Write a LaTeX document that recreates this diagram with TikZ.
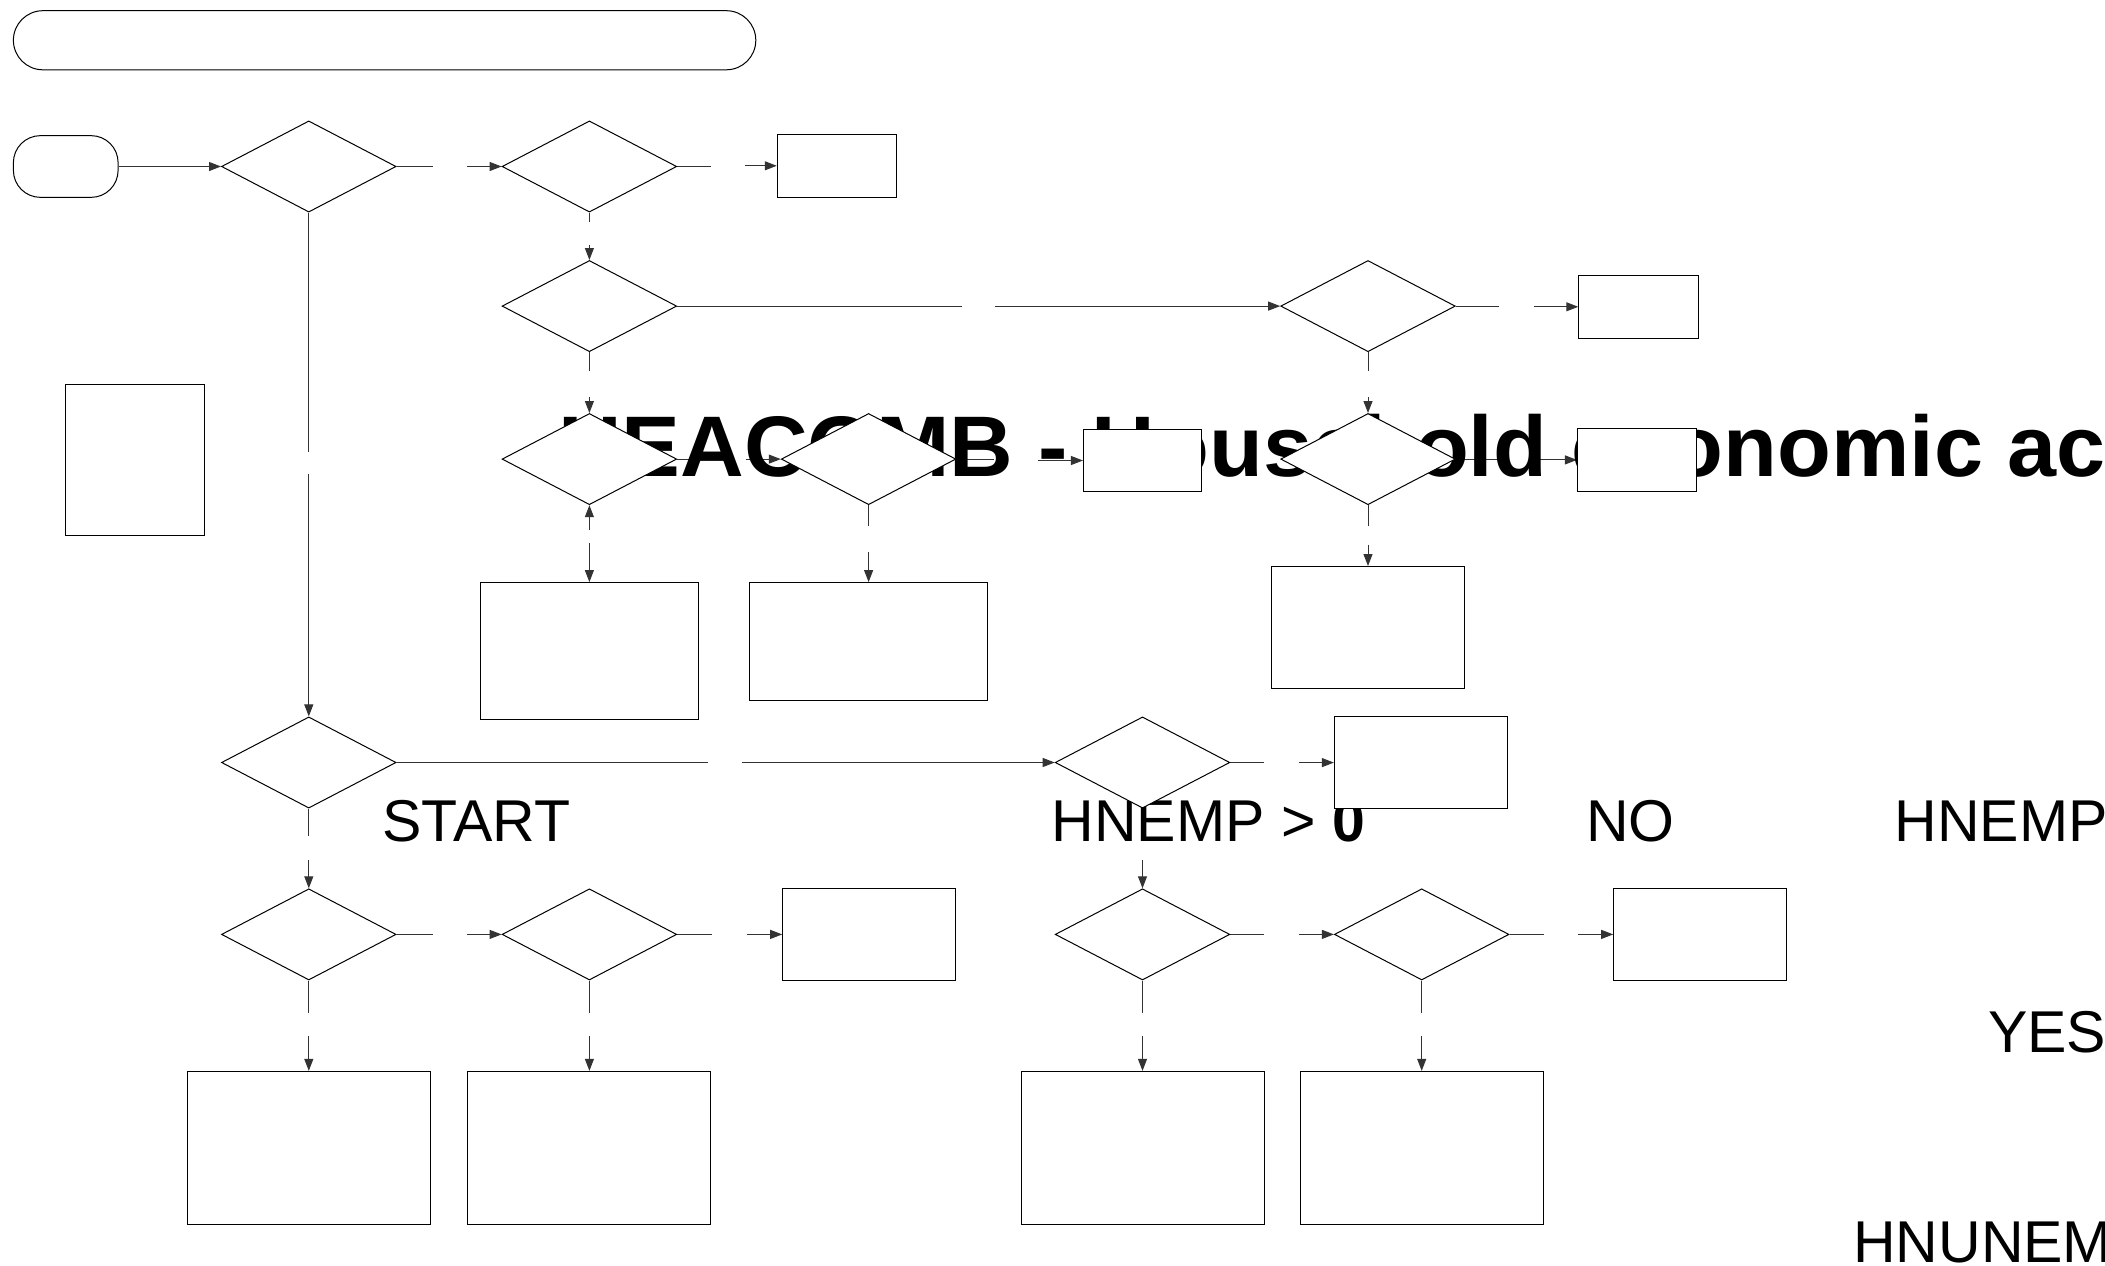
\documentclass[tikz,border=0pt]{standalone}
\usepackage{fontspec}
\setmainfont{Liberation Sans}
\newfontfamily\titlefont[FakeStretch=1.025]{Liberation Sans Bold}
\usetikzlibrary{shapes.geometric,arrows.meta}
\pgfdeclarelayer{lines}
\pgfdeclarelayer{texts}
\pgfsetlayers{lines,texts,main}
\tikzset{
  dec/.style={draw, diamond, fill=white, minimum width=174.6pt, minimum height=91.2pt, inner sep=0pt, line width=1pt},
  box/.style={draw, rectangle, fill=white, inner sep=0pt, line width=1pt},
  pill/.style={draw, rectangle, fill=white, inner sep=0pt, line width=1pt},
  conn/.style={line width=1pt, draw=black!80},
  arr/.style={conn, -{Triangle[length=12pt,width=9pt]}},
  lbl/.style={font=\fontsize{59}{61}\selectfont, inner sep=0pt, anchor=base west},
  ttl/.style={font=\fontsize{86}{90}\selectfont\titlefont, inner sep=0pt, anchor=base west}
}
\begin{document}
\begin{tikzpicture}[x=1pt,y=-1pt]
\useasboundingbox (0,0) rectangle (2105,1266);
% terminators
\node[pill, rounded corners=29.5pt, minimum width=742.4pt, minimum height=59.1pt] (T) at (384.6,40.25) {};
\node[pill, rounded corners=27pt, minimum width=104.7pt, minimum height=61.7pt] (S) at (65.75,166.5) {};
% decisions
\node[dec] (D1) at (308.8,166.5) {};
\node[dec] (D2) at (589.4,166.5) {};
\node[dec] (D3) at (589.4,306.1) {};
\node[dec] (D4) at (1368,306.1) {};
\node[dec] (D5) at (589.4,459.1) {};
\node[dec] (D6) at (868.6,459.1) {};
\node[dec] (D7) at (1368,459.1) {};
\node[dec] (D8) at (308.8,762.5) {};
\node[dec] (D9) at (1142.5,762.5) {};
\node[dec] (D10) at (308.8,934.4) {};
\node[dec] (D11) at (589.4,934.4) {};
\node[dec] (D12) at (1142.5,934.4) {};
\node[dec] (D13) at (1421.7,934.4) {};
% boxes
\node[box, minimum width=119.5pt, minimum height=63.1pt] (B1) at (837,165.8) {};
\node[box, minimum width=119.5pt, minimum height=63.1pt] (B2) at (1638.5,306.8) {};
\node[box, minimum width=138.3pt, minimum height=151.7pt] (B3) at (135,459.9) {};
\node[box, minimum width=118.1pt, minimum height=61.8pt] (B4) at (1142.5,460.5) {};
\node[box, minimum width=119.5pt, minimum height=63.1pt] (B5) at (1637.2,459.9) {};
\node[box, minimum width=218.8pt, minimum height=137pt] (B6) at (589.4,651.1) {};
\node[box, minimum width=237.6pt, minimum height=118.2pt] (B7) at (868.6,641.7) {};
\node[box, minimum width=193.4pt, minimum height=122.2pt] (B8) at (1368,627.6) {};
\node[box, minimum width=173.2pt, minimum height=91.3pt] (B9) at (1421,762.6) {};
\node[box, minimum width=173.2pt, minimum height=91.3pt] (B10) at (869.3,934.4) {};
\node[box, minimum width=173.2pt, minimum height=91.3pt] (B11) at (1700.3,934.4) {};
\node[box, minimum width=243pt, minimum height=153.1pt] (B12) at (308.8,1147.9) {};
\node[box, minimum width=243pt, minimum height=153.1pt] (B13) at (589.4,1147.9) {};
\node[box, minimum width=243pt, minimum height=153.1pt] (B14) at (1142.5,1147.9) {};
\node[box, minimum width=243pt, minimum height=153.1pt] (B15) at (1421.7,1147.9) {};
% texts
\begin{pgfonlayer}{texts}
\node[ttl] (title) at (558,476.6) {HEACOMB - Household economic activity};
\node[lbl] (start) at (382,841.7) {START};
\node[lbl] (cond) at (1051.5,841.7) {HNEMP > \textbf{0}};
\node[lbl] (no) at (1586,841.7) {NO};
\node[lbl] (hnemp) at (1894.5,841.7) {HNEMP};
\node[lbl] (yes) at (1988,1052.5) {YES};
\node[lbl] (hnunemp) at (1853,1262) {HNUNEMP};
\end{pgfonlayer}
% connectors
\begin{pgfonlayer}{lines}
\draw[arr] (S.east) -- (D1.west);
\draw[conn] (D1.east) -- ++(36,0);
\draw[arr] ([xshift=-35pt]D2.west) -- (D2.west);
\draw[conn] (D2.east) -- ++(34,0);
\draw[arr] ([xshift=-32pt]B1.west) -- (B1.west);
\draw[conn] (D1.south) -- ++(0,239);
\draw[arr] ([yshift=242pt]D8.north) -- (D8.north);
\draw[conn] (D2.south) -- ++(0,9);
\draw[arr] ([yshift=15pt]D3.north) -- (D3.north);
\draw[conn] (D3.east) -- ++(285,0);
\draw[arr] ([xshift=-285pt]D4.west) -- (D4.west);
\draw[conn] (D4.east) -- ++(43,0);
\draw[arr] ([xshift=-44pt]B2.west) -- (B2.west);
\draw[conn] (D3.south) -- ++(0,19);
\draw[arr] ([yshift=16pt]D5.north) -- (D5.north);
\draw[conn] (D5.east) -- ++(35,0);
\draw[arr] ([xshift=-35pt]D6.west) -- (D6.west);
\draw[conn] (D6.east) -- ++(38,0);
\draw[arr] ([xshift=-45pt]B4.west) -- (B4.west);
\draw[conn] (D4.south) -- ++(0,19);
\draw[arr] ([yshift=16pt]D7.north) -- (D7.north);
\draw[conn] (D7.east) -- ++(43,0);
\draw[arr] ([xshift=-44pt]B5.west) -- (B5.west);
\draw[arr] ([yshift=-25pt]D5.south) -- (D5.south);
\draw[arr] ([yshift=39pt]B6.north) -- (B6.north);
\draw[conn] (D6.south) -- ++(0,21);
\draw[arr] ([yshift=30pt]B7.north) -- (B7.north);
\draw[conn] (D7.south) -- ++(0,21);
\draw[arr] ([yshift=21.5pt]B8.north) -- (B8.north);
\draw[conn] (D8.east) -- ++(311,0);
\draw[arr] ([xshift=-313pt]D9.west) -- (D9.west);
\draw[conn] (D9.east) -- ++(34,0);
\draw[arr] ([xshift=-35pt]B9.west) -- (B9.west);
\draw[conn] (D8.south) -- ++(0,27);
\draw[arr] ([yshift=28pt]D10.north) -- (D10.north);
\draw[conn] (D9.south) -- ++(0,27);
\draw[arr] ([yshift=28pt]D12.north) -- (D12.north);
\draw[conn] (D10.east) -- ++(36,0);
\draw[arr] ([xshift=-35pt]D11.west) -- (D11.west);
\draw[conn] (D11.east) -- ++(35,0);
\draw[arr] ([xshift=-35pt]B10.west) -- (B10.west);
\draw[conn] (D12.east) -- ++(34,0);
\draw[arr] ([xshift=-35pt]D13.west) -- (D13.west);
\draw[conn] (D13.east) -- ++(34,0);
\draw[arr] ([xshift=-35pt]B11.west) -- (B11.west);
\draw[conn] (D10.south) -- ++(0,32);
\draw[arr] ([yshift=35pt]B12.north) -- (B12.north);
\draw[conn] (D11.south) -- ++(0,32);
\draw[arr] ([yshift=35pt]B13.north) -- (B13.north);
\draw[conn] (D12.south) -- ++(0,32);
\draw[arr] ([yshift=35pt]B14.north) -- (B14.north);
\draw[conn] (D13.south) -- ++(0,32);
\draw[arr] ([yshift=35pt]B15.north) -- (B15.north);
\end{pgfonlayer}
\end{tikzpicture}
\end{document}
